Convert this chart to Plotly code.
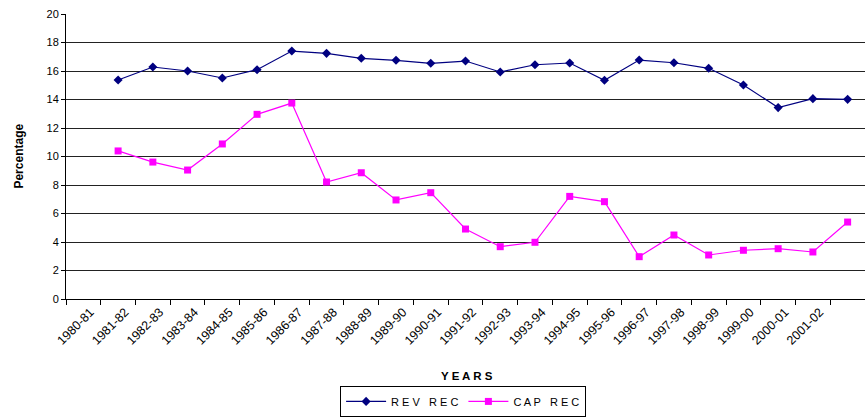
import numpy as np
import plotly.graph_objects as go

years = ["1980-81", "1981-82", "1982-83", "1983-84", "1984-85", "1985-86", "1986-87",
         "1987-88", "1988-89", "1989-90", "1990-91", "1991-92", "1992-93", "1993-94",
         "1994-95", "1995-96", "1996-97", "1997-98", "1998-99", "1999-00", "2000-01", "2001-02"]

rev_rec = [15.37, 16.28, 16.00, 15.51, 16.09, 17.40, 17.24, 16.89, 16.75, 16.54, 16.70,
           15.93, 16.44, 16.56, 15.35, 16.77, 16.58, 16.19, 15.02, 13.43, 14.06, 14.01]
cap_rec = [10.39, 9.61, 9.05, 10.88, 12.96, 13.75, 8.21, 8.86, 6.95, 7.46, 4.91,
           3.67, 3.98, 7.20, 6.83, 2.97, 4.49, 3.09, 3.42, 3.53, 3.30, 5.40]

# data points are plotted one category to the right of the labels (as in the original)
n_cat = len(years) + 1
x_pts = np.arange(1, len(rev_rec) + 1)

font = "Liberation Sans, Arial, sans-serif"

fig = go.Figure()
fig.add_trace(go.Scatter(
    x=x_pts, y=rev_rec, mode="lines+markers", name="R E V   R E C",
    line=dict(color="#000080", width=1.2),
    marker=dict(symbol="diamond", size=7, color="#000080"),
))
fig.add_trace(go.Scatter(
    x=x_pts, y=cap_rec, mode="lines+markers", name="C A P   R E C",
    line=dict(color="#FF00FF", width=1.2),
    marker=dict(symbol="square", size=7, color="#FF00FF"),
))

fig.update_layout(
    width=865, height=419,
    margin=dict(l=66, r=0, t=14, b=120, autoexpand=False),
    paper_bgcolor="white", plot_bgcolor="white",
    font=dict(family=font, size=10, color="black"),
    showlegend=True,
    legend=dict(
        orientation="h", x=0.497, xanchor="center", y=-0.305, yanchor="top",
        bordercolor="black", borderwidth=1, bgcolor="white",
        font=dict(family=font, size=11, color="black"),
        tracegroupgap=0, itemwidth=40,
    ),
    xaxis=dict(
        range=[-0.5, n_cat - 0.5], automargin=False,
        tickmode="array", tickvals=[i + 0.2 for i in range(len(years))], ticktext=years,
        tickangle=-45, ticks="", showgrid=False,
        showline=True, linecolor="black", linewidth=1,
        tickfont=dict(family=font, size=12.5, color="black"),
        minor=dict(tickmode="array", tickvals=[i - 0.5 for i in range(n_cat + 1)],
                   ticks="outside", ticklen=5, tickcolor="black", showgrid=False),
        zeroline=False,
    ),
    yaxis=dict(
        range=[0, 20], tickmode="array", tickvals=list(range(0, 21, 2)),
        ticks="outside", ticklen=4, tickcolor="black", automargin=False,
        showgrid=True, gridcolor="#222222", gridwidth=1,
        showline=True, linecolor="black", linewidth=1,
        zeroline=False,
        tickfont=dict(family=font, size=11, color="black"),
    ),
    annotations=[
        dict(text="<b>Percentage</b>", xref="paper", yref="paper", x=-0.060, y=0.5,
             xanchor="center", yanchor="middle", textangle=-90, showarrow=False,
             font=dict(family=font, size=12, color="black")),
        dict(text="<b>Y E A R S</b>", xref="paper", yref="paper", x=0.502, y=-0.27,
             xanchor="center", yanchor="middle", showarrow=False,
             font=dict(family=font, size=11.5, color="black")),
    ],
)

fig.write_html("out.html")
